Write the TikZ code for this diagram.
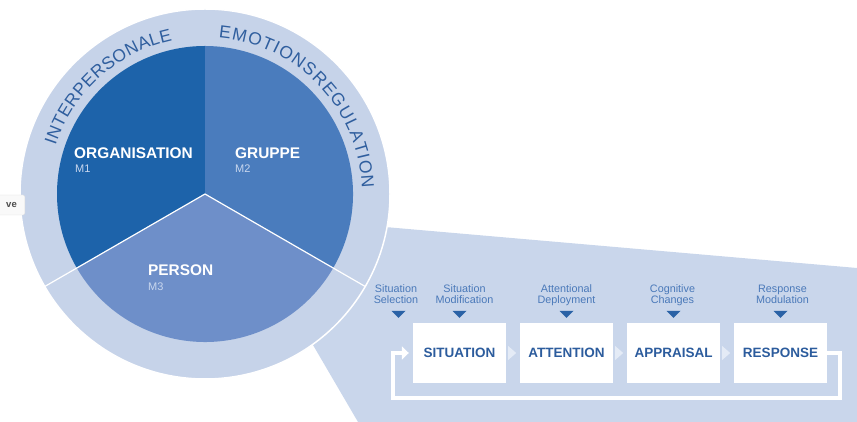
\documentclass[tikz,border=0pt]{standalone}
\usepackage{fontspec}
\setmainfont{Liberation Sans}
\usetikzlibrary{calc,decorations.text,arrows.meta}

\definecolor{ringblue}{HTML}{C6D3E9}
\definecolor{panelblue}{HTML}{C9D6EB}
\definecolor{orgblue}{HTML}{1D63AA}
\definecolor{grpblue}{HTML}{4A7CBD}
\definecolor{perblue}{HTML}{6E8FC9}
\definecolor{ringtxt}{HTML}{2F5E9E}
\definecolor{boxtxt}{HTML}{2C5C9D}
\definecolor{lbltxt}{HTML}{4A79B9}
\definecolor{mtxt}{HTML}{C9D7EE}
\definecolor{markerblue}{HTML}{2A62A6}
\definecolor{chevblue}{HTML}{E4EBF6}

\newcommand\ringletters{\fontsize{17.5}{18}\selectfont}

\begin{document}
\begin{tikzpicture}[x=1pt,y=1pt,
  stagebox/.style={fill=white, minimum width=93pt, minimum height=60pt,
    inner sep=0pt, text=boxtxt, font=\fontsize{13.5}{16}\selectfont\bfseries},
  seclbl/.style={anchor=base west, inner sep=0pt, text=white,
    font=\fontsize{15.4}{18}\selectfont\bfseries},
  mlbl/.style={anchor=base west, inner sep=0pt, text=mtxt,
    font=\fontsize{11}{13}\selectfont},
  steplbl/.style={anchor=south, inner sep=0pt, text depth=0pt, align=center,
    text=lbltxt, font=\fontsize{10.8}{11}\selectfont},
  marker/.style={fill=markerblue},
  chevron/.style={fill=chevblue},
  loopline/.style={draw=white, line width=3.5pt, shorten >=4pt,
    -{Triangle[length=7pt,width=13pt]}},
  ringtext/.style={decorate, decoration={text along path,
    text align={fit to path}, text color=ringtxt}}
]
\clip (0,0) rectangle (857,422);

% magnified process panel behind the circle
\fill[panelblue] (313,77) -- (385,195) -- (857,154) -- (857,0) -- (358,0) -- cycle;

% outer ring
\coordinate (c) at (205,228);
\fill[ringblue, draw=white, line width=1.5pt] (c) circle[radius=185pt];

% three sectors
\fill[orgblue] (c) -- ++(90:148pt) arc[start angle=90, end angle=210, radius=148pt] -- cycle;
\fill[grpblue] (c) -- ++(-30:148pt) arc[start angle=-30, end angle=90, radius=148pt] -- cycle;
\fill[perblue] (c) -- ++(210:148pt) arc[start angle=210, end angle=330, radius=148pt] -- cycle;
\draw[white, line width=1.2pt] (c) -- ++(210:185pt) (c) -- ++(330:185pt);

% lettering in the ring
\path[ringtext, decoration={text={|\ringletters|INTERPERSONALE}}]
  (c) ++(162:157pt) arc[start angle=162, end angle=102, radius=157pt];
\path[ringtext, decoration={text={|\ringletters|EMOTIONSREGULATION}}]
  (c) ++(85:157pt) arc[start angle=85, end angle=2, radius=157pt];

% sector labels
\node[seclbl] (org) at (74,263) {ORGANISATION};
\node[mlbl] (m1) at (75,249) {M1};
\node[seclbl] (grp) at (235,263) {GRUPPE};
\node[mlbl] (m2) at (235,249) {M2};
\node[seclbl] (per) at (148,146) {PERSON};
\node[mlbl] (m3) at (148,131) {M3};

% cut-off tab on the left edge
\node[anchor=east, draw=gray!25, fill=gray!5, rounded corners=1.5pt,
  minimum height=20pt, inner xsep=8pt, text=black!70,
  font=\fontsize{9.5}{10}\selectfont\bfseries] (tab) at (25,217) {ve};

% process stages
\node[stagebox] (situation) at (459.5,69) {SITUATION};
\node[stagebox] (attention) at (566.5,69) {ATTENTION};
\node[stagebox] (appraisal) at (673.5,69) {APPRAISAL};
\node[stagebox] (response) at (780.5,69) {RESPONSE};

% light chevrons between the stages
\foreach \b in {situation,attention,appraisal}
  \fill[chevron] ($(\b.east)+(2,7)$) -- ($(\b.east)+(10,0)$) -- ($(\b.east)+(2,-7)$) -- cycle;

% feedback loop
\coordinate (loopR) at (840,24);
\coordinate (loopL) at (393,24);
\draw[loopline] (response.east) -| (loopR) -- (loopL) |- (situation.west);

% strategy markers
\foreach \b/\dx in {situation/-61,situation/0,attention/0,appraisal/0,response/0}
  \fill[marker] ($(\b.north)+(\dx-7,12)$) -- ++(14,0) -- ++(-7,-7) -- cycle;

% strategy labels
\node[steplbl] (sel) at ($(situation.north)+(-63.5,19)$) {Situation\\Selection};
\node[steplbl] (mod) at ($(situation.north)+(5,19)$) {Situation\\Modification};
\node[steplbl] (dep) at ($(attention.north)+(0,19)$) {Attentional\\Deployment};
\node[steplbl] (cog) at ($(appraisal.north)+(-1,19)$) {Cognitive\\Changes};
\node[steplbl] (mdl) at ($(response.north)+(2,19)$) {Response\\Modulation};
\end{tikzpicture}
\end{document}
